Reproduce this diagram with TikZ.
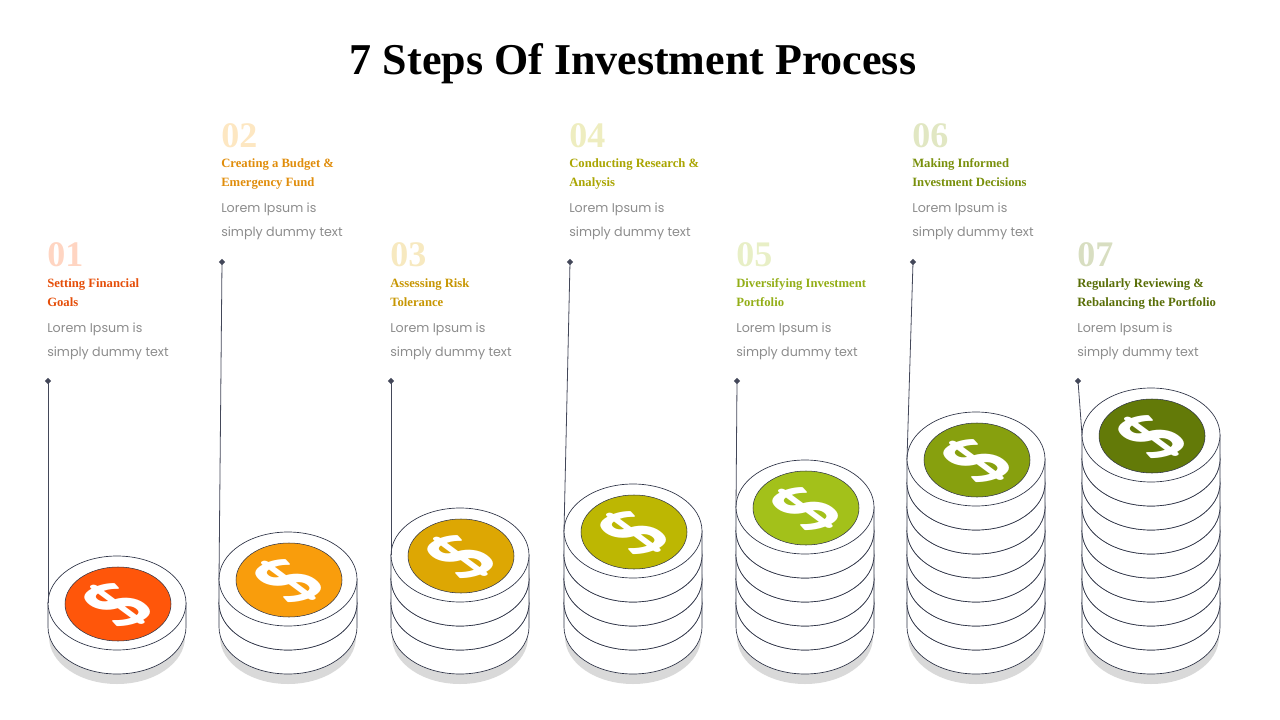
\documentclass[tikz,border=0pt]{standalone}
\usepackage{fontspec}
\setmainfont{Liberation Serif}
\newfontfamily\bodyfont{Poppins}
\usetikzlibrary{positioning, shapes.geometric}
\definecolor{coinA}{HTML}{FF560A}
\definecolor{coinB}{HTML}{F99D0C}
\definecolor{coinC}{HTML}{DDA703}
\definecolor{coinD}{HTML}{BDB702}
\definecolor{coinE}{HTML}{A3C11A}
\definecolor{coinF}{HTML}{87A00E}
\definecolor{coinG}{HTML}{637A08}
\definecolor{edge}{HTML}{2E3346}
\definecolor{bodygray}{HTML}{8C8C8C}
\tikzset{
  coinside/.style = {fill=white, draw=edge, line width=0.5pt},
  face/.style     = {draw=edge, line width=0.4pt},
  shadow/.style   = {fill=gray!30},
  dollar/.style   = {text=white, font=\sffamily\bfseries\fontsize{58}{58}\selectfont,
                     inner sep=0pt},
  stepnum/.style  = {anchor=base west, inner sep=0pt, font=\bfseries\fontsize{27}{27}\selectfont},
  steptitle/.style= {anchor=base west, inner sep=0pt, align=left,
                     font=\bfseries\fontsize{9.5}{14.25}\selectfont},
  stepbody/.style = {anchor=base west, inner sep=0pt, align=left, text=bodygray,
                     font=\bodyfont\fontsize{9.5}{18}\selectfont},
  leader/.style   = {draw=edge!90, line width=0.6pt},
  pin/.style      = {diamond, fill=edge!90, inner sep=0pt, minimum size=5pt}
}
\begin{document}
\begin{tikzpicture}[x=0.75pt, y=-0.75pt]
  \useasboundingbox (0,0) rectangle (1280,720);
  \node (title) at (633,64) {\bfseries\fontsize{33}{33}\selectfont 7 Steps Of Investment Process};

  % one stack per step: x centre / extra coins / text x / text offset / colour / title
  \foreach \i/\x/\n/\tx/\off/\col/\ttl in {
      1/117/0/47/0/coinA/{Setting Financial\\Goals},
      2/288/1/221/-119/coinB/{Creating a Budget \&\\Emergency Fund},
      3/460/2/390/0/coinC/{Assessing Risk\\Tolerance},
      4/633/3/569/-119/coinD/{Conducting Research \&\\Analysis},
      5/805/4/736/0/coinE/{Diversifying Investment\\Portfolio},
      6/976/6/912/-119/coinF/{Making Informed\\Investment Decisions},
      7/1151/7/1077/0/coinG/{Regularly Reviewing \&\\Rebalancing the Portfolio}} {
    % shadow
    \fill[shadow] (\x,637) ellipse[x radius=68, y radius=47];
    % coins, bottom up
    \foreach \j in {0,...,\n} {
      \pgfmathsetmacro{\yt}{603-24*\j}
      \path[coinside] (\x-69,\yt) -- ++(0,24)
        arc[start angle=180, end angle=0, x radius=69, y radius=47]
        -- ++(0,-24) -- cycle;
      \path[coinside] (\x,\yt) ellipse[x radius=69, y radius=47];
    }
    \pgfmathsetmacro{\ytop}{603-24*\n}
    \fill[\col, face] (\x+1,\ytop+1) ellipse[x radius=53, y radius=37];
    \node[dollar] (sign\i) at (\x+1,\ytop+2) {\scalebox{1.35}[0.78]{\rotatebox{38}{\$}}};
    \coordinate (foot\i) at (\x-69,\ytop);

    % texts (base = last line)
    \node[stepnum, text=\col!25] (num\i) at (\tx,267+\off) {0\i};
    \node[steptitle, text=\col!90!black] (ttl\i) at (\tx,306+\off) {\ttl};
    \node[stepbody] (body\i) at (\tx,356+\off) {Lorem Ipsum is\\simply dummy text};

    % leader
    \node[pin] (pin\i) at (\tx+1,381+\off) {};
    \draw[leader] (pin\i.center) -- (foot\i);
  }
\end{tikzpicture}
\end{document}
